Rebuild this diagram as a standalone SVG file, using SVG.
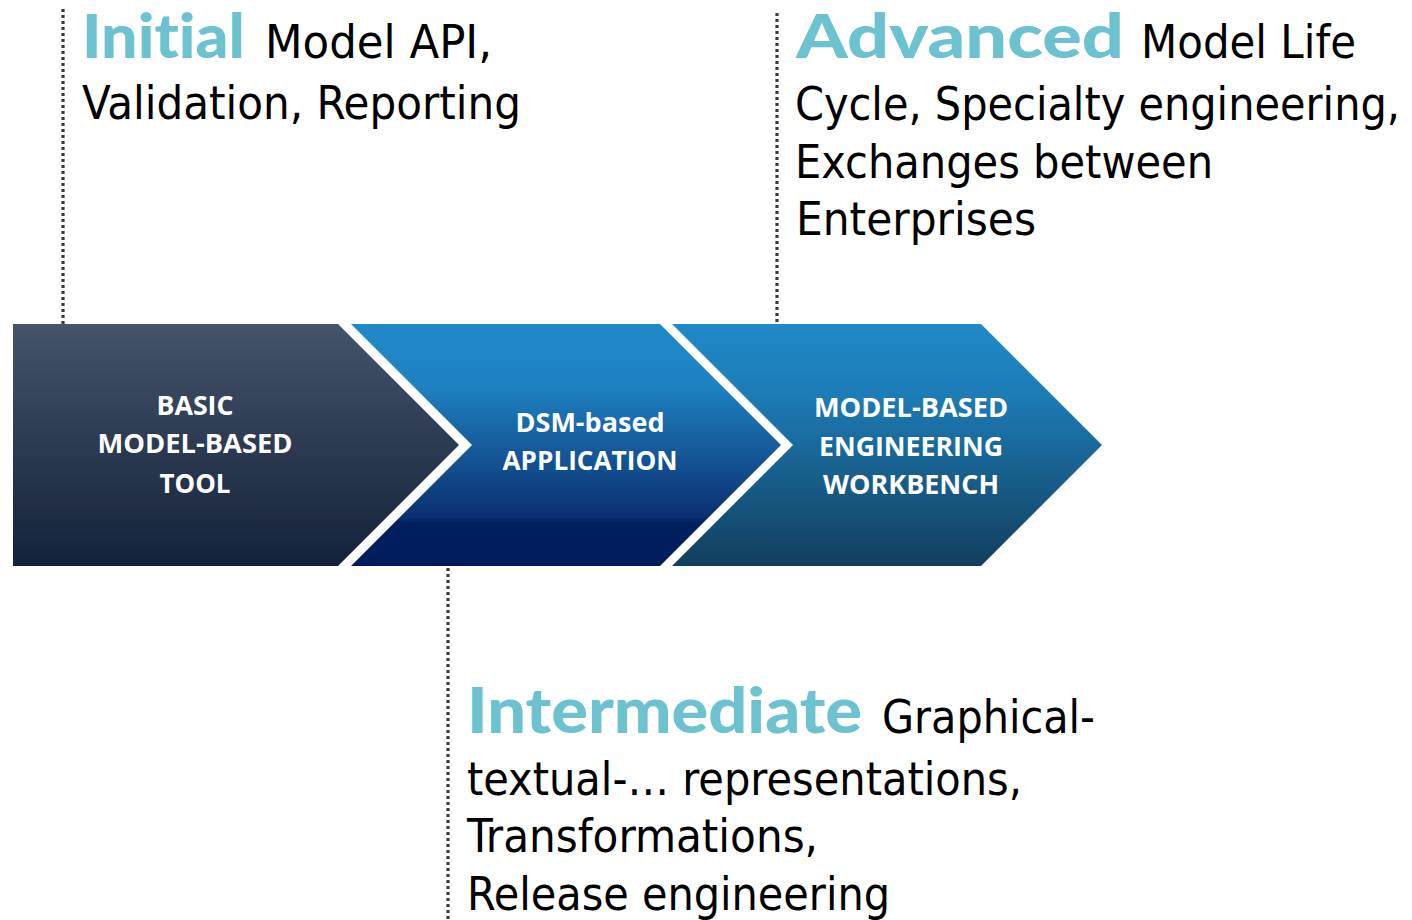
<svg xmlns="http://www.w3.org/2000/svg" width="1412" height="920" viewBox="0 0 1412 920">
<style>
.lbl{font-family:"Open Sans","Noto Sans",sans-serif;font-weight:bold;font-size:27px;fill:#fff;text-anchor:middle}
.hd{font-family:"Lato","Noto Sans",sans-serif;font-weight:900;fill:#6cc2ce;font-variant-ligatures:none}
.bd{font-family:"DejaVu Sans Condensed","DejaVu Sans",sans-serif;font-stretch:condensed;fill:#000;font-size:46px}
.dot{stroke:#3a3a3a;stroke-width:3.2;stroke-dasharray:3 3;fill:none}
</style>
<defs>
<linearGradient id="g1" x1="0" y1="0" x2="0" y2="1">
<stop offset="0" stop-color="#445469"/><stop offset="1" stop-color="#14213a"/>
</linearGradient>
<linearGradient id="g2" x1="0" y1="0" x2="0" y2="1">
<stop offset="0" stop-color="#2089c9"/><stop offset="0.25" stop-color="#1f82c2"/><stop offset="0.8" stop-color="#0b2f70"/><stop offset="0.82" stop-color="#00205f"/><stop offset="1" stop-color="#001b5b"/>
</linearGradient>
<linearGradient id="g3" x1="0" y1="0" x2="0" y2="1">
<stop offset="0" stop-color="#2089c9"/><stop offset="0.3" stop-color="#1d7bb5"/><stop offset="1" stop-color="#123e5d"/>
</linearGradient>
</defs>
<g id="connectors">
<line class="dot" x1="63" y1="9" x2="63" y2="324"/>
<line class="dot" x1="777" y1="13" x2="777" y2="322"/>
<line class="dot" x1="448" y1="568" x2="448" y2="920"/>
</g>
<g id="node-basic">
<polygon points="13,324 338,324 459,445 338,566 13,566" fill="url(#g1)"/>
<text class="lbl" x="195" y="415" textLength="77" lengthAdjust="spacingAndGlyphs">BASIC</text>
<text class="lbl" x="195" y="453" textLength="195" lengthAdjust="spacingAndGlyphs">MODEL-BASED</text>
<text class="lbl" x="195" y="493" textLength="71" lengthAdjust="spacingAndGlyphs">TOOL</text>
</g>
<g id="node-dsm">
<polygon points="351,324 660,324 781,445 660,566 351,566 472,445" fill="url(#g2)"/>
<text class="lbl" x="590" y="432" textLength="149" lengthAdjust="spacingAndGlyphs">DSM-based</text>
<text class="lbl" x="590" y="470" textLength="175" lengthAdjust="spacingAndGlyphs">APPLICATION</text>
</g>
<g id="node-mbe">
<polygon points="672,324 981,324 1102,445 981,566 672,566 793,445" fill="url(#g3)"/>
<text class="lbl" x="911" y="417" textLength="194" lengthAdjust="spacingAndGlyphs">MODEL-BASED</text>
<text class="lbl" x="911" y="456" textLength="184" lengthAdjust="spacingAndGlyphs">ENGINEERING</text>
<text class="lbl" x="911" y="494" textLength="176" lengthAdjust="spacingAndGlyphs">WORKBENCH</text>
</g>
<g id="note-initial">
<text class="hd" x="82" y="58" font-size="60" textLength="163" lengthAdjust="spacingAndGlyphs">Initial</text>
<text class="bd" x="265" y="58" textLength="227" lengthAdjust="spacingAndGlyphs">Model API,</text>
<text class="bd" x="82" y="119" textLength="439" lengthAdjust="spacingAndGlyphs">Validation, Reporting</text>
</g>
<g id="note-advanced">
<text class="hd" x="796" y="58" font-size="60" textLength="328" lengthAdjust="spacingAndGlyphs">Advanced</text>
<text class="bd" x="1141" y="58" textLength="215" lengthAdjust="spacingAndGlyphs">Model Life</text>
<text class="bd" x="795" y="120" textLength="605" lengthAdjust="spacingAndGlyphs">Cycle, Specialty engineering,</text>
<text class="bd" x="795" y="178" textLength="418" lengthAdjust="spacingAndGlyphs">Exchanges between</text>
<text class="bd" x="796" y="235" textLength="240" lengthAdjust="spacingAndGlyphs">Enterprises</text>
</g>
<g id="note-intermediate">
<text class="hd" x="467" y="733" font-size="62" textLength="395" lengthAdjust="spacingAndGlyphs">Intermediate</text>
<text class="bd" x="882" y="733" textLength="213" lengthAdjust="spacingAndGlyphs">Graphical-</text>
<text class="bd" x="467" y="795" textLength="555" lengthAdjust="spacingAndGlyphs">textual-… representations,</text>
<text class="bd" x="467" y="852" textLength="351" lengthAdjust="spacingAndGlyphs">Transformations,</text>
<text class="bd" x="467" y="910" textLength="423" lengthAdjust="spacingAndGlyphs">Release engineering</text>
</g>
</svg>
